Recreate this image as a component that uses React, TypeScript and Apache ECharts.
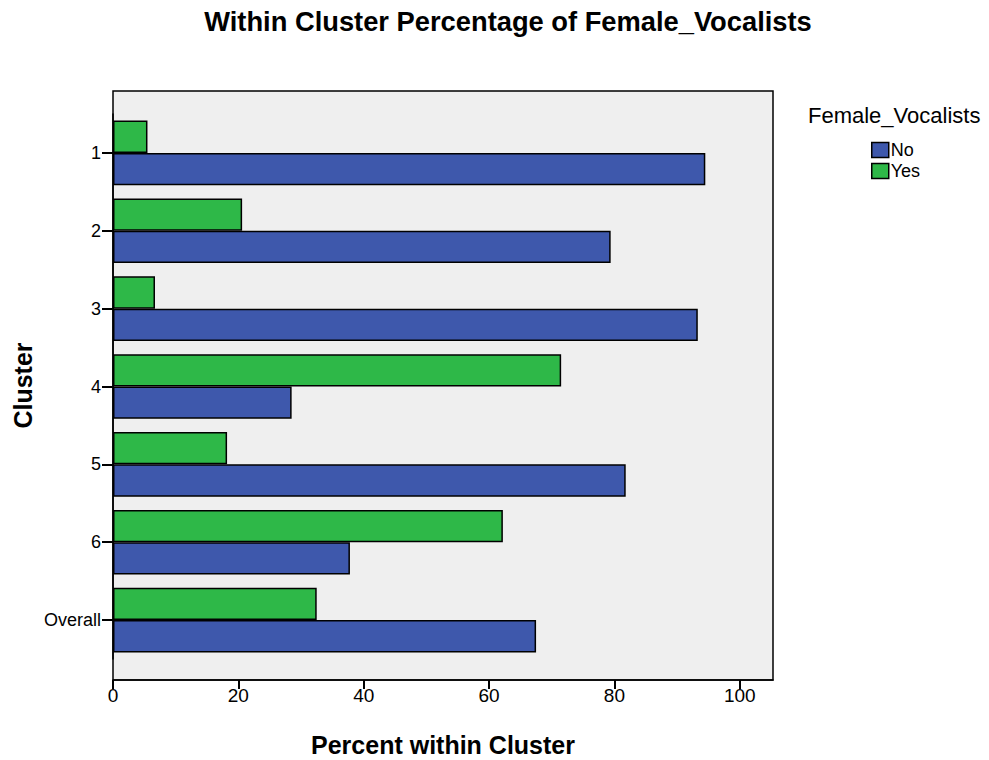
import React, { useEffect, useRef } from "react";
import * as echarts from "echarts";

const categories = ["1", "2", "3", "4", "5", "6", "Overall"];
const noValues = [94.5, 79.4, 93.3, 28.5, 81.8, 37.8, 67.5];
const yesValues = [5.5, 20.6, 6.7, 71.5, 18.2, 62.2, 32.5];
const legendOrder = ["No", "Yes"];
const xTicks = [0, 20, 40, 60, 80, 100];

const FONT = "Arial, 'Liberation Sans', sans-serif";

export default function App() {
  const ref = useRef<HTMLDivElement>(null);
  useEffect(() => {
    document.body.style.margin = "0";
    const chart = echarts.init(ref.current!, null, { renderer: "svg" });
    chart.setOption({
      animation: false,
      backgroundColor: "#ffffff",
      textStyle: { fontFamily: FONT },
      title: {
        text: "Within Cluster Percentage of Female_Vocalists",
        left: 503,
        textAlign: "center",
        top: 3,
        textStyle: { fontSize: 27.3, fontWeight: "bold", color: "#000", fontFamily: FONT },
      },
      legend: {
        orient: "vertical",
        left: 866,
        top: 136,
        itemWidth: 17,
        itemHeight: 15,
        itemGap: 3,
        icon: "rect",
        data: legendOrder,
        textStyle: { fontSize: 18, color: "#000", fontFamily: FONT, padding: [0, 0, 0, -3] },
        itemStyle: { borderColor: "#000", borderWidth: 1.5 },
      },
      graphic: [
        {
          type: "text",
          left: 808,
          top: 104,
          style: { text: "Female_Vocalists", fontSize: 22, fill: "#000", fontFamily: FONT },
        },
      ],
      grid: [
        {
          left: 113,
          right: 216,
          top: 91,
          bottom: 80,
          show: true,
          backgroundColor: "#efefef",
          borderColor: "#000",
          borderWidth: 1.5,
          containLabel: false,
          outerBoundsMode: "none",
        },
        {
          left: 113,
          right: 216,
          top: 114,
          bottom: 101,
          containLabel: false,
          outerBoundsMode: "none",
        },
      ],
      xAxis: [
        {
          gridIndex: 0,
          type: "value",
          min: 0,
          max: 105.3,
          interval: 20,
          name: "Percent within Cluster",
          nameLocation: "middle",
          nameGap: 52,
          nameTextStyle: { fontSize: 25, fontWeight: "bold", color: "#000", fontFamily: FONT },
          axisLine: { show: true, lineStyle: { color: "#000", width: 1.5 } },
          axisTick: {
            show: true,
            length: 9,
            customValues: xTicks,
            lineStyle: { color: "#000", width: 2 },
          },
          axisLabel: {
            fontSize: 19,
            color: "#000",
            margin: 6,
            customValues: xTicks,
          },
          splitLine: { show: false },
        },
        {
          gridIndex: 1,
          type: "value",
          min: 0,
          max: 105.3,
          show: false,
        },
      ],
      yAxis: [
        {
          gridIndex: 0,
          type: "value",
          show: true,
          name: "Cluster",
          nameLocation: "middle",
          nameRotate: 90,
          nameGap: 78,
          nameTextStyle: { fontSize: 25, fontWeight: "bold", color: "#000", fontFamily: FONT },
          axisLine: { show: false },
          axisTick: { show: false },
          axisLabel: { show: false },
          splitLine: { show: false },
        },
        {
          gridIndex: 1,
          type: "category",
          inverse: true,
          data: categories,
          axisLine: { show: true, lineStyle: { color: "#000", width: 1.5 } },
          axisTick: { show: true, alignWithLabel: true, length: 11, lineStyle: { color: "#000", width: 2 } },
          axisLabel: { fontSize: 18, color: "#000", margin: 12 },
        },
      ],
      series: [
        {
          name: "Yes",
          type: "bar",
          xAxisIndex: 1,
          yAxisIndex: 1,
          data: yesValues,
          barGap: "0%",
          barCategoryGap: "17%",
          itemStyle: { color: "#2eb848", borderColor: "#000", borderWidth: 1.5 },
        },
        {
          name: "No",
          type: "bar",
          xAxisIndex: 1,
          yAxisIndex: 1,
          data: noValues,
          barGap: "0%",
          barCategoryGap: "17%",
          itemStyle: { color: "#3e58ac", borderColor: "#000", borderWidth: 1.5 },
        },
      ],
    });
    return () => chart.dispose();
  }, []);
  return <div ref={ref} style={{ width: 989, height: 760 }} />;
}
